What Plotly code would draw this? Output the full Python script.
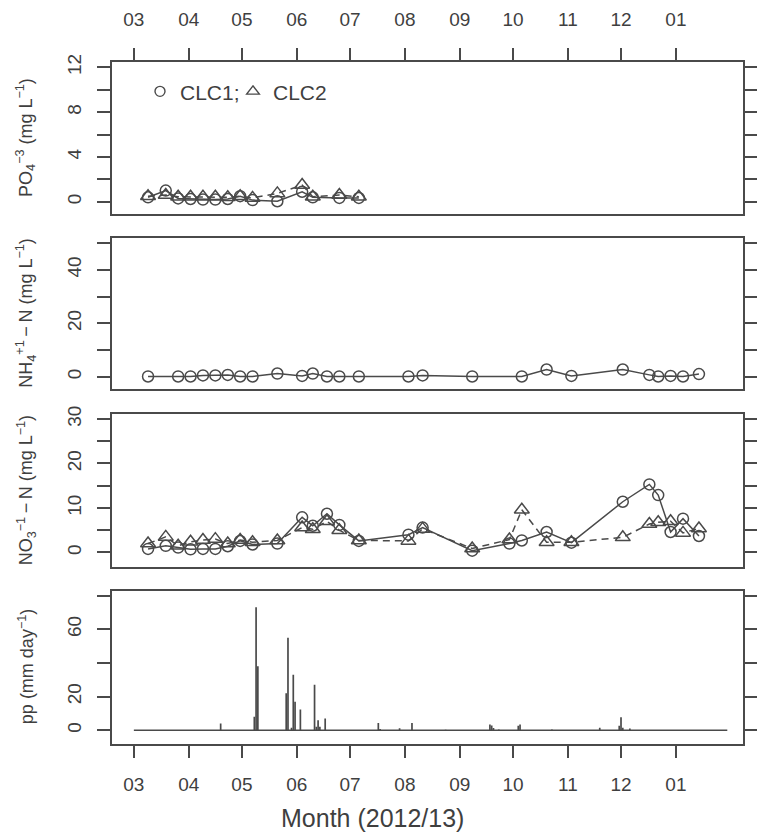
import pandas as pd
import plotly.graph_objects as go

# ---- data -----------------------------------------------------------------
# weekly sampling dates, CLC1 / CLC2 nitrate
no3_dates = ["2012-03-09", "2012-03-19", "2012-03-26", "2012-04-02", "2012-04-09",
             "2012-04-16", "2012-04-23", "2012-04-30", "2012-05-07", "2012-05-21",
             "2012-06-04", "2012-06-10", "2012-06-18", "2012-06-25", "2012-07-06",
             "2012-08-03", "2012-08-11", "2012-09-08", "2012-09-29", "2012-10-06",
             "2012-10-20", "2012-11-03", "2012-12-02", "2012-12-17", "2012-12-22",
             "2012-12-29", "2013-01-05", "2013-01-14"]
no3_clc1 = [0.8, 1.5, 1.1, 0.7, 0.8, 0.8, 1.4, 2.6, 1.8, 2.0,
            7.9, 6.0, 8.7, 6.2, 2.6, 4.0, 5.6, 0.4, 2.0, 2.7,
            4.6, 2.2, 11.4, 15.3, 12.9, 4.6, 7.6, 3.7]
no3_clc2 = [2.0, 3.5, 1.5, 2.4, 2.8, 3.0, 2.0, 2.8, 2.3, 2.7,
            5.6, 5.2, 7.0, 5.0, 2.7, 2.6, 5.3, 0.9, 2.9, 9.6,
            2.3, 2.3, 3.4, 6.4, 6.8, 7.0, 4.4, 5.4]

# phosphate (only sampled until July)
po4_dates = ["2012-03-09", "2012-03-19", "2012-03-26", "2012-04-02", "2012-04-09",
             "2012-04-16", "2012-04-23", "2012-04-30", "2012-05-07", "2012-05-21",
             "2012-06-04", "2012-06-10", "2012-06-25", "2012-07-06"]
po4_clc1 = [0.4, 1.0, 0.3, 0.25, 0.2, 0.2, 0.25, 0.5, 0.15, 0.05, 0.9, 0.4, 0.35, 0.35]
po4_clc2 = [0.5, 0.6, 0.45, 0.45, 0.45, 0.45, 0.4, 0.5, 0.35, 0.75, 1.5, 0.45, 0.6, 0.45]

# ammonium, CLC1
nh4_dates = ["2012-03-09", "2012-03-26", "2012-04-02", "2012-04-09", "2012-04-16",
             "2012-04-23", "2012-04-30", "2012-05-07", "2012-05-21", "2012-06-04",
             "2012-06-10", "2012-06-18", "2012-06-25", "2012-07-06", "2012-08-03",
             "2012-08-11", "2012-09-08", "2012-10-06", "2012-10-20", "2012-11-03",
             "2012-12-02", "2012-12-17", "2012-12-22", "2012-12-29", "2013-01-05",
             "2013-01-14"]
nh4_clc1 = [0.1, 0.1, 0.1, 0.5, 0.5, 0.7, 0.1, 0.1, 1.2, 0.3,
            1.2, 0.1, 0.1, 0.1, 0.1, 0.5, 0.1, 0.1, 2.7, 0.3,
            2.7, 0.7, 0.1, 0.3, 0.1, 1.0]

# daily precipitation: record period and the rainy days (all other days 0)
rain_start, rain_end = "2012-03-01", "2013-01-30"
rain_days = ["2012-04-19", "2012-05-08", "2012-05-09", "2012-05-10", "2012-05-26",
             "2012-05-27", "2012-05-29", "2012-05-30", "2012-05-31", "2012-06-03",
             "2012-06-11", "2012-06-12", "2012-06-13", "2012-06-14", "2012-06-17",
             "2012-07-17", "2012-07-18", "2012-07-29", "2012-08-05", "2012-08-24",
             "2012-09-18", "2012-09-19", "2012-09-20", "2012-09-23", "2012-10-04",
             "2012-10-05", "2012-10-23", "2012-11-19", "2012-11-30", "2012-12-01",
             "2012-12-02", "2012-12-06"]
rain_mm = [4.1, 8.0, 73.0, 38.0, 22.0,
           55.0, 1.5, 33.0, 17.0, 12.3,
           27.0, 2.1, 6.0, 2.1, 7.0,
           4.3, 0.8, 1.2, 4.3, 0.3,
           3.5, 2.9, 1.4, 0.5, 2.7,
           3.5, 0.5, 1.5, 2.7, 7.8,
           1.5, 1.0]

month_starts = ["2012-03-01", "2012-04-01", "2012-05-01", "2012-06-01", "2012-07-01",
                "2012-08-01", "2012-09-01", "2012-10-01", "2012-11-01", "2012-12-01",
                "2013-01-01"]
month_labels = ["03", "04", "05", "06", "07", "08", "09", "10", "11", "12", "01"]

# ---- styling ----------------------------------------------------------------
W, H = 761, 838
INK = "#4a4a4a"
TXT = "#3f3f3f"
FONT = "Liberation Sans, Arial, sans-serif"

daily = pd.Series(0.0, index=pd.date_range(rain_start, rain_end, freq="D"))
daily.loc[pd.to_datetime(rain_days)] = rain_mm

# vertical "histogram-like" spikes, one per day
spike_x, spike_y = [], []
for d, v in daily.items():
    spike_x += [d, d, None]
    spike_y += [0, v, None]


def px_x(p):
    return p / W


def px_y(p):
    return 1 - p / H


X_DOM = [px_x(111.5), px_x(742.5)]
X_RANGE = ["2012-02-17 09:00", "2013-02-07 14:00"]

# panel boxes (top, bottom) in pixels and y-axis setup
panels = [
    dict(top=54.3, bottom=208.0, rng=[-1.09, 12.5],
         ticks=[0, 2, 4, 6, 8, 10, 12], labels=["0", "", "4", "", "8", "", "12"]),
    dict(top=232.3, bottom=385.0, rng=[-4.7, 51.85],
         ticks=[0, 10, 20, 30, 40, 50], labels=["0", "", "20", "", "40", ""]),
    dict(top=410.0, bottom=564.0, rng=[-3.18, 31.1],
         ticks=[0, 5, 10, 15, 20, 25, 30], labels=["0", "", "10", "", "20", "", "30"]),
    dict(top=588.3, bottom=742.7, rng=[-7.9, 82.9],
         ticks=[0, 20, 40, 60, 80], labels=["0", "20", "", "60", ""]),
]

fig = go.Figure()

LW = 1.5
line_solid = dict(color=INK, width=LW)
line_dash = dict(color=INK, width=LW, dash="7px,5px")
mk_circle = dict(symbol="circle-open", size=11, color=INK, line=dict(width=LW, color=INK))
mk_tri = dict(symbol="triangle-up-open", size=13, color=INK, line=dict(width=LW, color=INK))

# panel 1: phosphate
fig.add_trace(go.Scatter(x=po4_dates, y=po4_clc1, mode="lines+markers", line=line_solid,
                         marker=mk_circle, xaxis="x", yaxis="y", showlegend=False))
fig.add_trace(go.Scatter(x=po4_dates, y=po4_clc2, mode="lines+markers", line=line_dash,
                         marker=mk_tri, xaxis="x", yaxis="y", showlegend=False))
# legend entries
fig.add_trace(go.Scatter(x=[None], y=[None], mode="markers", name="CLC1;",
                         marker=dict(symbol="circle-open", size=10, color=INK,
                                     line=dict(width=1.4, color=INK)),
                         xaxis="x", yaxis="y", legend="legend"))
fig.add_trace(go.Scatter(x=[None], y=[None], mode="markers", name="CLC2",
                         marker=dict(symbol="triangle-up-open", size=11, color=INK,
                                     line=dict(width=1.4, color=INK)),
                         xaxis="x", yaxis="y", legend="legend2"))

# panel 2: ammonium
fig.add_trace(go.Scatter(x=nh4_dates, y=nh4_clc1, mode="lines+markers", line=line_solid,
                         marker=mk_circle, xaxis="x2", yaxis="y2", showlegend=False))

# panel 3: nitrate
fig.add_trace(go.Scatter(x=no3_dates, y=no3_clc1, mode="lines+markers", line=line_solid,
                         marker=mk_circle, xaxis="x3", yaxis="y3", showlegend=False))
fig.add_trace(go.Scatter(x=no3_dates, y=no3_clc2, mode="lines+markers", line=line_dash,
                         marker=mk_tri, xaxis="x3", yaxis="y3", showlegend=False))

# panel 4: daily precipitation (baseline over the record, spikes per day)
fig.add_trace(go.Scatter(x=[daily.index[0], daily.index[-1]], y=[0, 0], mode="lines",
                         line=dict(color=INK, width=1.4),
                         xaxis="x4", yaxis="y4", showlegend=False))
fig.add_trace(go.Scatter(x=spike_x, y=spike_y, mode="lines",
                         line=dict(color=INK, width=1.7),
                         xaxis="x4", yaxis="y4", showlegend=False))

tickfont = dict(family=FONT, size=19, color=TXT)
layout = {}
for i, p in enumerate(panels):
    n = "" if i == 0 else str(i + 1)
    xa = dict(type="date", domain=X_DOM, range=X_RANGE, anchor="y" + n,
              showline=True, mirror=True, linecolor=INK, linewidth=1.5,
              showgrid=False, zeroline=False,
              tickmode="array", tickvals=month_starts, ticktext=month_labels,
              tickfont=tickfont, ticks="", showticklabels=False)
    if i == 0:
        xa.update(side="top", ticks="outside", ticklen=12.5, tickwidth=1.5,
                  tickcolor=INK, showticklabels=True, ticklabelstandoff=14)
    if i == 3:
        xa.update(side="bottom", ticks="outside", ticklen=12.5, tickwidth=1.5,
                  tickcolor=INK, showticklabels=True, ticklabelstandoff=10)
    ya = dict(domain=[px_y(p["bottom"]), px_y(p["top"])], range=p["rng"],
              anchor="x" + n, showline=True, mirror="ticks", linecolor=INK,
              linewidth=1.5, showgrid=False, zeroline=False,
              tickmode="array", tickvals=p["ticks"], ticktext=p["labels"],
              ticks="outside", ticklen=13, tickwidth=1.5, tickcolor=INK,
              tickangle=-90, tickfont=tickfont, ticklabelstandoff=8)
    layout["xaxis" + n] = xa
    layout["yaxis" + n] = ya

titles = [
    "PO<sub>4</sub><sup>−3</sup> (mg L<sup>−1</sup>)",
    "NH<sub>4</sub><sup>+1</sup>\u2009−\u2009N (mg L<sup>−1</sup>)",
    "NO<sub>3</sub><sup>−1</sup>\u2009−\u2009N (mg L<sup>−1</sup>)",
    "pp (mm day<sup>−1</sup>)",
]
annotations = []
for p, t in zip(panels, titles):
    annotations.append(dict(text=t, textangle=-90, xref="paper", yref="paper",
                            x=px_x(26), y=px_y((p["top"] + p["bottom"]) / 2),
                            xanchor="center", yanchor="middle", showarrow=False,
                            font=dict(family=FONT, size=18, color=TXT)))
annotations.append(dict(text="Month (2012/13)", xref="paper", yref="paper",
                        x=px_x(372), y=px_y(818), xanchor="center", yanchor="middle",
                        showarrow=False, font=dict(family=FONT, size=25, color=TXT)))

legend_common = dict(orientation="h", bgcolor="rgba(0,0,0,0)", borderwidth=0,
                     font=dict(family=FONT, size=21, color=TXT),
                     xanchor="left", yanchor="middle", itemclick=False,
                     itemdoubleclick=False)

fig.update_layout(
    width=W, height=H,
    margin=dict(l=0, r=0, t=0, b=0),
    paper_bgcolor="white", plot_bgcolor="white",
    font=dict(family=FONT, color=TXT),
    annotations=annotations,
    legend=dict(x=px_x(160 - 20), y=px_y(84.5), **legend_common),
    legend2=dict(x=px_x(253 - 20), y=px_y(84.5), **legend_common),
    **layout,
)

fig.write_html("out.html")
